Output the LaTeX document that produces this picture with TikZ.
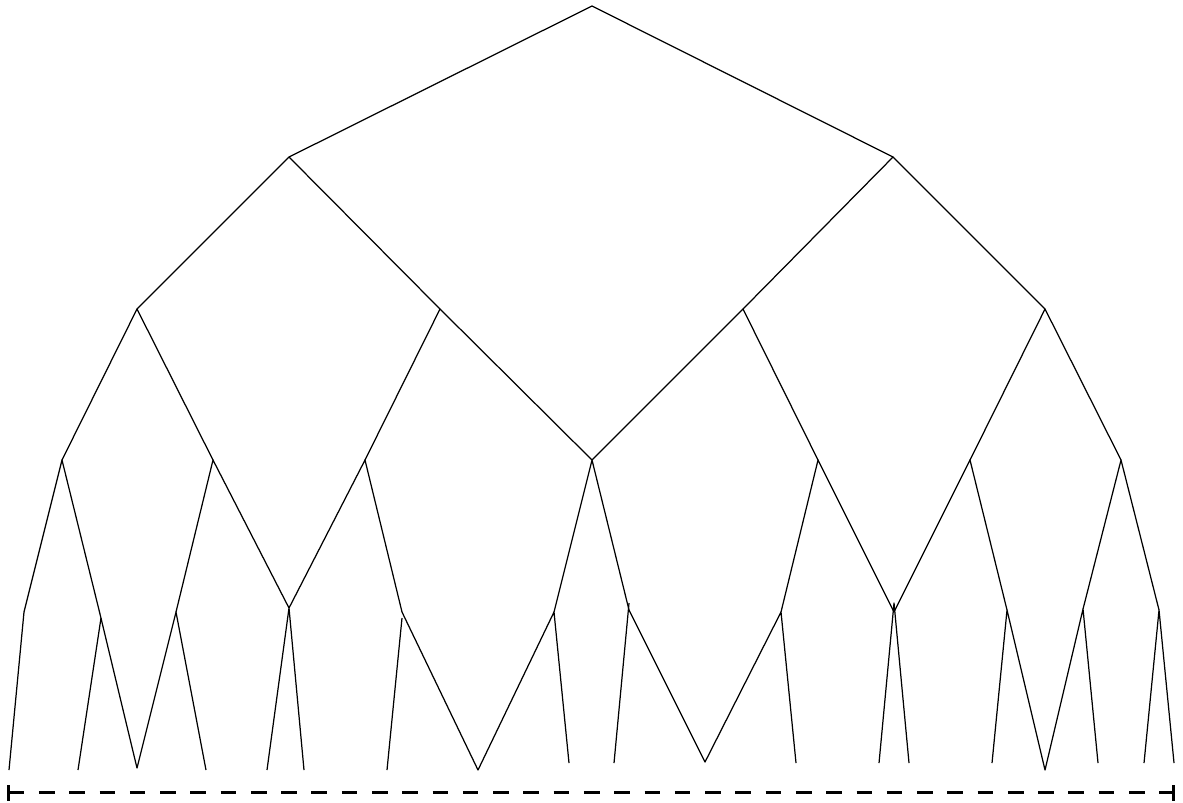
\documentclass[tikz,border=0pt]{standalone}
\usetikzlibrary{positioning}

\tikzset{
  branch/.style={line width=0.35pt},
  scalebar/.style={line width=0.75pt, dash pattern=on 4.44pt off 4.17pt},
  barend/.style={line width=0.75pt}
}

\begin{document}
\begin{tikzpicture}[line join=round, x=0.01cm, y=-0.01cm]
  \useasboundingbox (0,0) rectangle (1183,802);

  % upper levels
  \coordinate (r) at (592,6);
  \coordinate (a) at (289,157);
  \coordinate (b) at (893,157);
  \coordinate (c1) at (137,309);
  \coordinate (c2) at (440,309);
  \coordinate (c3) at (743,309);
  \coordinate (c4) at (1045,309);
  \coordinate (d1) at (62,460);
  \coordinate (d2) at (213,460);
  \coordinate (d3) at (365,460);
  \coordinate (d4) at (592,460);
  \coordinate (d5) at (818,460);
  \coordinate (d6) at (970,460);
  \coordinate (d7) at (1121,460);

  % fourth level (some second branches start a little off the joint)
  \coordinate (e1) at (24,612);
  \coordinate (e2) at (100,614);   \coordinate (e2b) at (101,618);
  \coordinate (e3) at (176,612);
  \coordinate (e4) at (289,608);
  \coordinate (e5) at (402,612);   \coordinate (e5b) at (402,618);
  \coordinate (e6) at (554,612);
  \coordinate (e7) at (629,610);   \coordinate (e7b) at (629,603);
  \coordinate (e8) at (781,612);
  \coordinate (e9) at (894,612);   \coordinate (e9b) at (894,603);
  \coordinate (e10) at (1007,610);
  \coordinate (e11) at (1083,609);
  \coordinate (e12) at (1159,610);

  % tips
  \coordinate (f1) at (9,770);
  \coordinate (f2) at (78,770);
  \coordinate (f3) at (137,768);
  \coordinate (f4) at (206,770);
  \coordinate (f5) at (267,770);
  \coordinate (f6) at (304,770);
  \coordinate (f7) at (387,770);
  \coordinate (f8) at (478,770);
  \coordinate (f9) at (569,763);
  \coordinate (f10) at (614,763);
  \coordinate (f11) at (705,762);
  \coordinate (f12) at (796,763);
  \coordinate (f13) at (879,763);
  \coordinate (f14) at (909,763);
  \coordinate (f15) at (992,763);
  \coordinate (f16) at (1045,770);
  \coordinate (f17) at (1098,763);
  \coordinate (f18) at (1144,763);
  \coordinate (f19) at (1174,763);

  % branches
  \draw[branch] (a) -- (r) -- (b);
  \draw[branch] (c1) -- (a) -- (c2);
  \draw[branch] (c3) -- (b) -- (c4);
  \draw[branch] (d1) -- (c1) -- (d2);
  \draw[branch] (d3) -- (c2) -- (d4);
  \draw[branch] (d4) -- (c3) -- (d5);
  \draw[branch] (d6) -- (c4) -- (d7);

  \draw[branch] (e1) -- (d1) -- (e2);
  \draw[branch] (e3) -- (d2) -- (e4);
  \draw[branch] (e4) -- (d3) -- (e5);
  \draw[branch] (e6) -- (d4) -- (e7);
  \draw[branch] (e8) -- (d5) -- (e9);
  \draw[branch] (e9) -- (d6) -- (e10);
  \draw[branch] (e11) -- (d7) -- (e12);

  \draw[branch] (e1) -- (f1);
  \draw[branch] (f2) -- (e2b);
  \draw[branch] (e2) -- (f3) -- (e3) -- (f4);
  \draw[branch] (f5) -- (e4) -- (f6);
  \draw[branch] (f7) -- (e5b);
  \draw[branch] (e5) -- (f8) -- (e6) -- (f9);
  \draw[branch] (f10) -- (e7b);
  \draw[branch] (e7) -- (f11) -- (e8) -- (f12);
  \draw[branch] (f13) -- (e9b) -- (f14);
  \draw[branch] (f15) -- (e10) -- (f16) -- (e11) -- (f17);
  \draw[branch] (f18) -- (e12) -- (f19);

  % scale bar
  \coordinate (s0) at (8.7,792.7);
  \coordinate (s1) at (1173.5,792.7);
  \draw[scalebar] (s0) -- (s1);
  \draw[barend] (s0) ++(0,-7.7) -- ++(0,15.5);
  \draw[barend] (s1) ++(0,-7.7) -- ++(0,15.5);
\end{tikzpicture}
\end{document}
